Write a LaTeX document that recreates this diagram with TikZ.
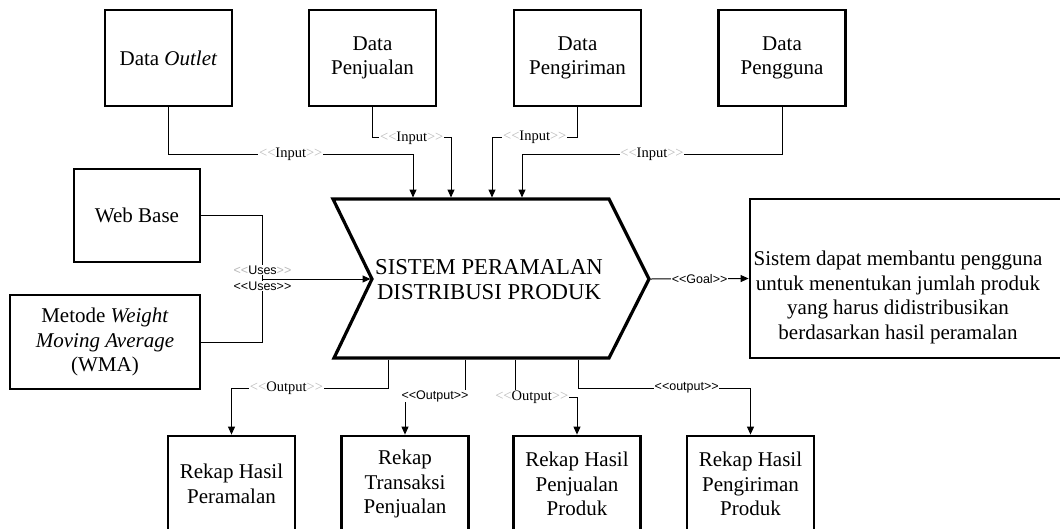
\documentclass[tikz,border=0pt]{standalone}
\usepackage{fontspec}
\setmainfont{Liberation Serif}
\setsansfont{Liberation Sans}
\usetikzlibrary{arrows.meta}
\newcommand\glt{\textcolor{gray!55}{<\kern0pt<}}
\newcommand\grt{\textcolor{gray!55}{>\kern0pt>}}
\newcommand\blt{<\kern0pt<}
\newcommand\brt{>\kern0pt>}
\begin{document}
\begin{tikzpicture}[x=1pt,y=-1pt,
 box/.style={draw, line width=2.8pt, fill=white, align=center, inner sep=2pt, font=\fontsize{21}{24.5}\selectfont},
 txt/.style={align=center, font=\fontsize{21}{24.5}\selectfont},
 conn/.style={line width=1pt, draw=black},
 arr/.style={conn, -{Triangle[length=8pt,width=7pt]}},
 lbls/.style={fill=white, inner sep=0.6pt, font=\fontsize{14.5}{15}\selectfont},
 lbla/.style={fill=white, inner sep=0.6pt, font=\sffamily\fontsize{12.5}{13}\selectfont},
]
\useasboundingbox (0,0) rectangle (1060,528);
\fill[white] (0,0) rectangle (1060,528);

% top boxes
\node[box, minimum width=127, minimum height=96] (outlet) at (168.5,58) {Data \textit{Outlet}};
\node[box, minimum width=127, minimum height=96] (pjl) at (372.5,58) {Data\\Penjualan};
\node[box, minimum width=127, minimum height=96] (pgr) at (577.5,58) {Data\\Pengiriman};
\node[box, minimum width=127, minimum height=96] (pgg) at (782,58) {Data\\Pengguna};

% left boxes
\node[box, minimum width=126, minimum height=93] (web) at (137,215.5) {Web Base};
\node[box, minimum width=190, minimum height=94] (met) at (105,342) {Metode \textit{Weight}\\\textit{Moving Average}\\(WMA)};

% goal box
\node[box, minimum width=316, minimum height=159] (goal) at (908,278.5) {};
\node[txt] (goaltxt) at (898,297.5) {Sistem dapat membantu pengguna\\untuk menentukan jumlah produk\\yang harus didistribusikan\\berdasarkan hasil peramalan};

% bottom boxes
\node[box, minimum width=127, minimum height=96] (r1) at (231.5,484) {Rekap Hasil\\Peramalan};
\node[box, minimum width=127, minimum height=96] (r2) at (405,484) {Rekap\\Transaksi\\Penjualan};
\node[box, minimum width=127, minimum height=96] (r3) at (577,484) {Rekap Hasil\\Penjualan\\Produk};
\node[box, minimum width=127, minimum height=96] (r4) at (750.5,484) {Rekap Hasil\\Pengiriman\\Produk};

% chevron
\coordinate (ctl) at (333,199);
\coordinate (ctr) at (609,199);
\coordinate (tip) at (649,279);
\coordinate (cbr) at (609,358);
\coordinate (cbl) at (334,358);
\coordinate (notch) at (372,279);
\draw[line width=3.2pt, fill=white, line join=miter] (ctl) -- (ctr) -- (tip) -- (cbr) -- (cbl) -- (notch) -- cycle;
\node[txt, font=\fontsize{22.7}{25}\selectfont] (sys) at (489,280) {SISTEM PERAMALAN\\DISTRIBUSI PRODUK};

% input targets
\coordinate (i1) at (413,197.5);
\coordinate (i2) at (451,197.5);
\coordinate (i3) at (492,197.5);
\coordinate (i4) at (522,197.5);
% output sources
\coordinate (o1) at (388.5,359.5);
\coordinate (o2) at (465,359.5);
\coordinate (o3) at (515,359.5);
\coordinate (o4) at (578,359.5);

% inputs
\draw[arr] (outlet.south) -- ++(0,47) -| node[lbls,pos=0.25]{\glt Input\grt} (i1);
\draw[arr] (pjl.south) -- ++(0,30.5) -| node[lbls,pos=0.25]{\glt Input\grt} (i2);
\draw[arr] (pgr.south) -- ++(0,30) -| node[lbls,pos=0.25]{\glt Input\grt} (i3);
\draw[arr] (pgg.south) -- ++(0,47) -| node[lbls,pos=0.25]{\glt Input\grt} (i4);

% uses
\coordinate (uj) at (262.5,279);
\draw[arr] (uj) -- ([xshift=-1.5pt]notch);
\draw[conn] (web.east) -| node[lbla,pos=0.93]{\glt Uses\grt} (uj);
\draw[conn] (met.east) -| node[lbla,pos=0.945]{\blt Uses\brt} (uj);

% goal
\draw[arr] ([xshift=1.5pt]tip) -- node[lbla]{\blt Goal\brt} (goal.west);

% outputs
\draw[arr] (o1) -- ++(0,28.5) -| node[lbls,pos=0.325]{\glt Output\grt} (r1.north);
\draw[arr] (o2) -- ++(0,36.5) -| node[lbla,pos=0.25]{\blt Output\brt} (r2.north);
\draw[arr] (o3) -- ++(0,37.5) -| node[lbls,pos=0.135]{\glt Output\grt} (r3.north);
\draw[arr] (o4) -- ++(0,28.5) -| node[lbla,pos=0.315]{\blt output\brt} (r4.north);
\end{tikzpicture}
\end{document}
